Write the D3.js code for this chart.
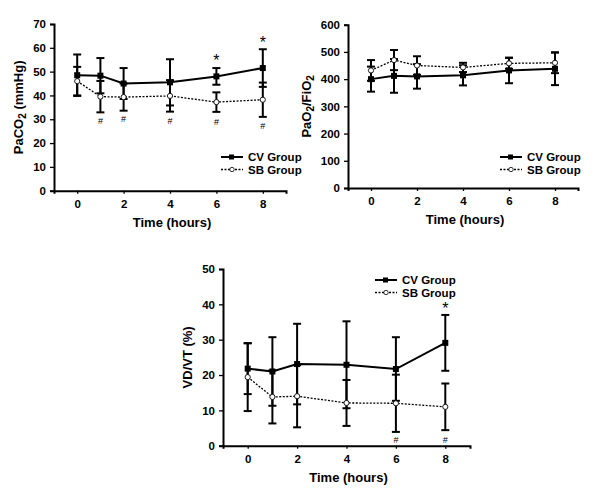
<!DOCTYPE html>
<html><head><meta charset="utf-8">
<script src="https://cdn.jsdelivr.net/npm/d3@7"></script>
<style>body{margin:0;background:#fff}svg{display:block}text{font-family:"Liberation Sans",Arial,sans-serif;font-weight:bold;fill:#000}</style>
</head><body><svg id="c" width="600" height="497"></svg>
<script>
const times = [0, 1, 2, 4, 6, 8];
const xTicks = [0, 2, 4, 6, 8];
// Panel A: PaCO2
const paco2CV = [48.5, 48.3, 45.0, 45.5, 48.0, 51.5];
const paco2CVErr = [8.7, 7.4, 6.5, 9.7, 3.5, 7.9];
const paco2SB = [46.0, 39.5, 39.3, 39.8, 37.2, 38.2];
const paco2SBErr = [6.0, 6.6, 5.7, 6.6, 4.1, 7.2];
const paco2Stars = [[6, 55.3], [8, 62.9]];
const paco2Hash = [[1, 29.4], [2, 30.1], [4, 29.4], [6, 29.0], [8, 27.2]];
const paco2Ticks = [0, 10, 20, 30, 40, 50, 60, 70];
// Panel B: PaO2/FiO2
const pfCV = [400, 412, 410, 414, 432, 438];
const pfCVErr = [46, 62, 45, 37, 47, 60];
const pfSB = [432, 470, 450, 443, 458, 460];
const pfSBErr = [38, 37, 34, 17, 20, 38];
const pfTicks = [0, 100, 200, 300, 400, 500, 600];
// Panel C: VD/VT
const vdCV = [21.8, 21.0, 23.1, 22.9, 21.7, 29.1];
const vdCVErr = [7.2, 9.7, 11.4, 12.3, 9.0, 7.9];
const vdSB = [19.4, 13.8, 14.0, 12.1, 12.0, 11.0];
const vdSBErr = [9.6, 7.5, 8.8, 6.5, 8.1, 6.6];
const vdStars = [[8, 39.2]];
const vdHash = [[6, 1.6], [8, 1.6]];
const vdTicks = [0, 10, 20, 30, 40, 50];
const seriesNames = ["CV Group", "SB Group"];

const svg = d3.select("#c");

function panel(o) {
  const g = svg.append("g");
  const x = d3.scaleLinear().domain([-1, 9]).range([o.x0, o.x1]);
  const y = d3.scaleLinear().domain([0, o.ymax]).range([o.y0, o.y1]);
  const ya = g.append("g").attr("transform", `translate(${o.x0},0)`)
    .call(d3.axisLeft(y).tickValues(o.yTicks).tickSize(4).tickPadding(4));
  const xa = g.append("g").attr("transform", `translate(0,${o.y0})`)
    .call(d3.axisBottom(x).tickValues(xTicks).tickSize(3).tickPadding(6));
  [ya, xa].forEach(a => {
    a.select(".domain").attr("stroke", "#000").attr("stroke-width", 2);
    a.selectAll(".tick line").attr("stroke", "#000").attr("stroke-width", 1.3);
    a.selectAll("text").style("font-size", "11.5px").style("font-weight", "bold").attr("fill", "#000");
  });
  // x title
  g.append("text").attr("x", (x(0) + x(8)) / 2 + 2).attr("y", o.y0 + 36)
    .attr("text-anchor", "middle").style("font-size", "13px").text("Time (hours)");
  // y title
  const yt = g.append("text").attr("transform", `translate(${o.ylx},${(o.y0 + o.y1) / 2}) rotate(-90)`)
    .attr("text-anchor", "middle").style("font-size", "13px");
  o.ylabel.forEach(p => {
    const t = yt.append("tspan").text(p[0]);
    if (p[1]) t.attr("baseline-shift", "-25%").style("font-size", "10px");
  });
  const series = [
    {v: o.cv, e: o.cvErr},
    {v: o.sb, e: o.sbErr}
  ];
  // error bars
  series.forEach(s => {
    times.forEach((t, i) => {
      const cx = x(t), hi = y(s.v[i] + s.e[i]), lo = y(s.v[i] - s.e[i]);
      g.append("line").attr("x1", cx).attr("x2", cx).attr("y1", hi).attr("y2", lo)
        .attr("stroke", "#000").attr("stroke-width", 2);
      [hi, lo].forEach(yy => g.append("line").attr("x1", cx - 4).attr("x2", cx + 4)
        .attr("y1", yy).attr("y2", yy).attr("stroke", "#000").attr("stroke-width", 2));
    });
  });
  const line = d3.line().x((d, i) => x(times[i])).y(d => y(d));
  // SB line (dotted)
  g.append("path").attr("d", line(o.sb)).attr("fill", "none").attr("stroke", "#000")
    .attr("stroke-width", 1.3).attr("stroke-dasharray", "2,1.5");
  g.selectAll(null).data(o.sb).enter().append("circle")
    .attr("cx", (d, i) => x(times[i])).attr("cy", d => y(d)).attr("r", 2.6)
    .attr("fill", "#fff").attr("stroke", "#000").attr("stroke-width", 0.9);
  // CV line
  g.append("path").attr("d", line(o.cv)).attr("fill", "none").attr("stroke", "#000").attr("stroke-width", 2);
  g.selectAll(null).data(o.cv).enter().append("rect")
    .attr("x", (d, i) => x(times[i]) - 3).attr("y", d => y(d) - 3).attr("width", 6).attr("height", 6).attr("fill", "#000");
  // annotations
  (o.stars || []).forEach(s => g.append("text").attr("x", x(s[0])).attr("y", y(s[1]) + 7)
    .attr("text-anchor", "middle").style("font-size", "16px").style("font-weight", "normal").attr("fill", "#444").text("*"));
  (o.hash || []).forEach(s => g.append("text").attr("x", x(s[0])).attr("y", y(s[1]) + 3)
    .attr("text-anchor", "middle").style("font-size", "9px").style("font-weight", "normal").attr("fill", "#555").text("#"));
  // legend
  const L = o.leg;
  seriesNames.forEach((n, i) => {
    const yy = L.y + i * 12.5;
    const lg = g.append("g");
    lg.append("line").attr("x1", L.x).attr("x2", L.x + 22).attr("y1", yy).attr("y2", yy)
      .attr("stroke", "#000").attr("stroke-width", i === 0 ? 2 : 1.3).attr("stroke-dasharray", i === 0 ? null : "2,1.5");
    if (i === 0) lg.append("rect").attr("x", L.x + 8).attr("y", yy - 2.5).attr("width", 5).attr("height", 5).attr("fill", "#000");
    else lg.append("circle").attr("cx", L.x + 11).attr("cy", yy).attr("r", 2.2).attr("fill", "#fff").attr("stroke", "#000").attr("stroke-width", 0.8);
    lg.append("text").attr("x", L.x + 27).attr("y", yy + 4).style("font-size", "11.5px").text(n);
  });
}

panel({x0: 54, x1: 286, y0: 190.7, y1: 24, ymax: 70, yTicks: paco2Ticks, ylx: 23,
  ylabel: [["PaCO"], ["2", true], [" (mmHg)"]],
  cv: paco2CV, cvErr: paco2CVErr, sb: paco2SB, sbErr: paco2SBErr, stars: paco2Stars, hash: paco2Hash,
  leg: {x: 221, y: 157}});
panel({x0: 348, x1: 578, y0: 188, y1: 24.7, ymax: 600, yTicks: pfTicks, ylx: 311,
  ylabel: [["PaO"], ["2", true], ["/FiO"], ["2", true]],
  cv: pfCV, cvErr: pfCVErr, sb: pfSB, sbErr: pfSBErr,
  leg: {x: 500, y: 157}});
panel({x0: 223, x1: 470, y0: 445.7, y1: 269, ymax: 50, yTicks: vdTicks, ylx: 192,
  ylabel: [["VD/VT (%)"]],
  cv: vdCV, cvErr: vdCVErr, sb: vdSB, sbErr: vdSBErr, stars: vdStars, hash: vdHash,
  leg: {x: 375, y: 280}});
</script></body></html>
